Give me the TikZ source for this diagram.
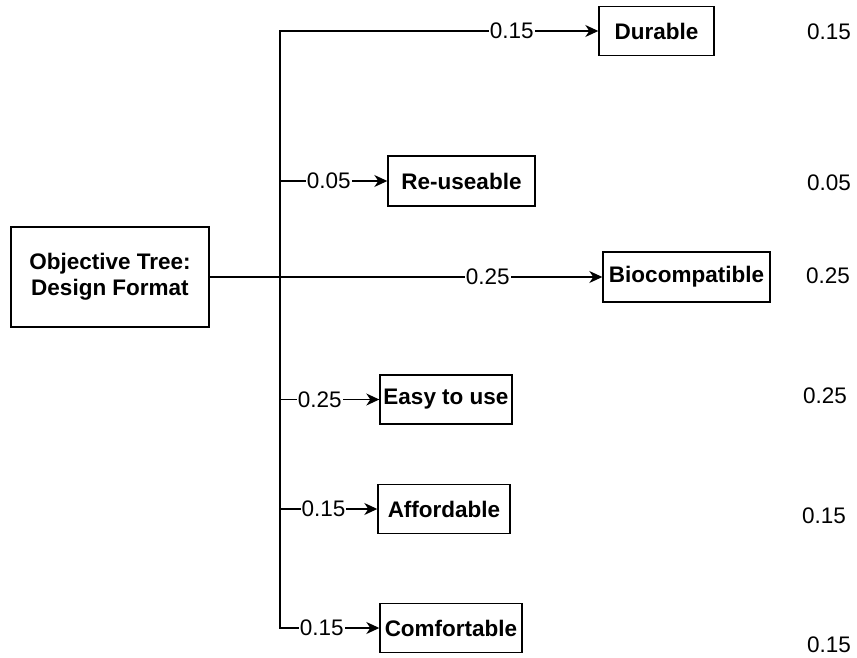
\documentclass[tikz,border=0pt]{standalone}
\usepackage{fontspec}
\setmainfont{Liberation Sans}
\usetikzlibrary{arrows.meta}
\begin{document}
\begin{tikzpicture}[x=1pt,y=-1pt,
  box/.style={draw=black,line width=1.4pt,fill=white,inner sep=0pt,align=center,font=\fontsize{22.5}{26.4}\selectfont\bfseries},
  wlabel/.style={fill=white,inner sep=1pt,font=\fontsize{22.5}{26}\selectfont},
  rlabel/.style={inner sep=0pt,font=\fontsize{22.5}{26}\selectfont},
  conn/.style={draw=black,line width=1.4pt,-{Stealth[length=13pt,width=12pt,inset=4pt]}}]
\useasboundingbox (0,0) rectangle (857,658);
\node[box,minimum width=198pt,minimum height=100pt] (main) at (110,277) {Objective Tree:\\Design Format};
\node[box,minimum width=115pt,minimum height=49pt] (durable) at (656.5,31) {Durable};
\node[box,minimum width=147pt,minimum height=50pt] (reuse) at (461.5,181) {Re-useable};
\node[box,minimum width=167pt,minimum height=50pt] (bio) at (686.5,277) {Biocompatible};
\node[box,minimum width=132pt,minimum height=49pt] (easy) at (446,399.5) {Easy to use};
\node[box,minimum width=132pt,minimum height=49pt] (afford) at (444,509) {Affordable};
\node[box,minimum width=142pt,minimum height=49pt] (comfort) at (451,628) {Comfortable};
\coordinate (trunk) at (280,277);
\draw[conn] (main.east) -- (trunk) |- node[wlabel,pos=0.864] {0.15} (durable.west);
\draw[conn] (main.east) -- (trunk) |- node[wlabel,pos=0.727] {0.05} (reuse.west);
\draw[conn] (main.east) -- node[wlabel,pos=0.708] {0.25} (bio.west);
\draw[conn] (main.east) -- (trunk) |- node[wlabel,pos=0.70] {0.25} (easy.west);
\draw[conn] (main.east) -- (trunk) |- node[wlabel,pos=0.724] {0.15} (afford.west);
\draw[conn] (main.east) -- (trunk) |- node[wlabel,pos=0.71] {0.15} (comfort.west);
\node[rlabel] (w1) at (829,32) {0.15};
\node[rlabel] (w2) at (829,183) {0.05};
\node[rlabel] (w3) at (828,276) {0.25};
\node[rlabel] (w4) at (825,396) {0.25};
\node[rlabel] (w5) at (824,516) {0.15};
\node[rlabel] (w6) at (829,645) {0.15};
\end{tikzpicture}
\end{document}
